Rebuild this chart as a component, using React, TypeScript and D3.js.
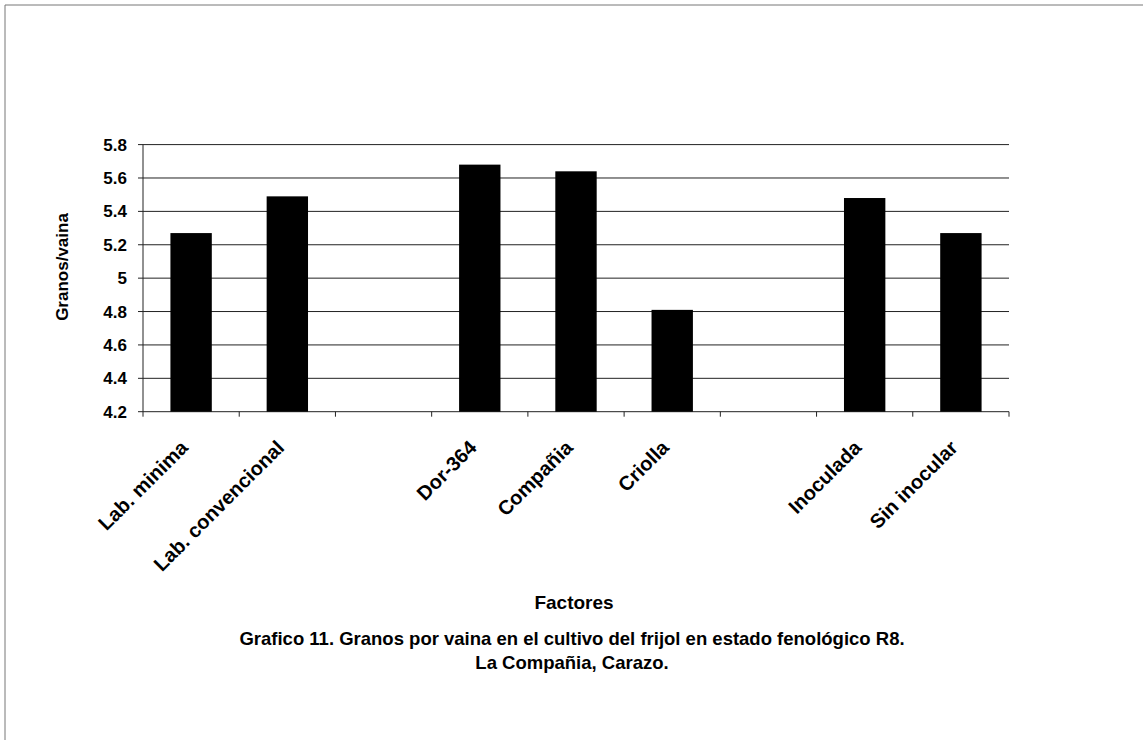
import React from "react";
import * as d3 from "d3";

const categories = ["Lab. minima", "Lab. convencional", "", "Dor-364", "Compañia", "Criolla", " ", "Inoculada", "Sin inocular"];
const values: (number | null)[] = [5.27, 5.49, null, 5.68, 5.64, 4.81, null, 5.48, 5.27];
const yTicks = [4.2, 4.4, 4.6, 4.8, 5, 5.2, 5.4, 5.6, 5.8];
const yTitle = "Granos/vaina";
const xTitle = "Factores";
const caption1 = "Grafico 11. Granos por vaina en el cultivo del frijol en estado fenológico R8.";
const caption2 = "La Compañia, Carazo.";

export default function App() {
  const W = 1143, H = 740;
  const left = 143, right = 1009, top = 144.6, bottom = 411.7;
  const x = d3.scaleBand<number>().domain(d3.range(categories.length)).range([left, right]).paddingInner(0).paddingOuter(0);
  const y = d3.scaleLinear().domain([4.2, 5.8]).range([bottom, top]);
  const bw = x.bandwidth() * 0.43;
  const font = "'Liberation Sans', Arial, sans-serif";
  return (
    <svg width={W} height={H} style={{ position: "absolute", left: 0, top: 0, background: "#fff" }} fontFamily={font}>
      <rect x={0} y={0} width={W} height={H} fill="#fff" />
      <line x1={5} y1={5} x2={W} y2={5} stroke="#777" strokeWidth={1} />
      <line x1={5} y1={5} x2={5} y2={H} stroke="#777" strokeWidth={1} />
      {yTicks.map((t) => (
        <g key={t}>
          <line x1={left - 5} x2={right} y1={y(t)} y2={y(t)} stroke="#222" strokeWidth={1} />
          <text x={127} y={y(t)} dy="0.36em" textAnchor="end" fontSize={17} fontWeight="bold">{String(t)}</text>
        </g>
      ))}
      <line x1={left} x2={left} y1={top} y2={bottom} stroke="#222" strokeWidth={1} />
      {d3.range(categories.length + 1).map((i) => {
        const xx = left + i * x.step();
        return <line key={i} x1={xx} x2={xx} y1={bottom} y2={bottom + 5} stroke="#222" strokeWidth={1} />;
      })}
      {values.map((v, i) =>
        v == null ? null : (
          <rect key={i} x={x(i)! + (x.bandwidth() - bw) / 2} y={y(v)} width={bw} height={bottom - y(v)} fill="#000" />
        )
      )}
      {categories.map((c, i) => {
        const cx = x(i)! + x.bandwidth() / 2;
        return c.trim() ? (
          <text key={i} transform={`translate(${cx - 2},${449}) rotate(-45)`} textAnchor="end" fontSize={20} fontWeight="bold">{c}</text>
        ) : null;
      })}
      <text transform={`translate(68,267) rotate(-90)`} textAnchor="middle" fontSize={17} fontWeight="bold">{yTitle}</text>
      <text x={574} y={609} textAnchor="middle" fontSize={19} fontWeight="bold">{xTitle}</text>
      <text x={572} y={645} textAnchor="middle" fontSize={18.5} fontWeight="bold">{caption1}</text>
      <text x={572} y={669} textAnchor="middle" fontSize={18.5} fontWeight="bold">{caption2}</text>
    </svg>
  );
}
